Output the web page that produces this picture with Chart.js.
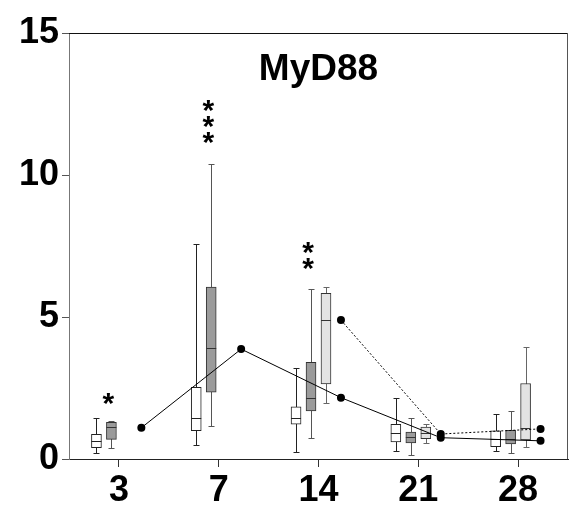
<!DOCTYPE html>
<html>
<head>
<meta charset="utf-8">
<script src="https://cdn.jsdelivr.net/npm/chart.js@4"></script>
<style>
  html, body { margin: 0; padding: 0; background: #fff; }
  #wrap { width: 573px; height: 506px; }
</style>
</head>
<body>
<div id="wrap"><canvas id="myd88"></canvas></div>
<script>
// x categories (days)
const days = ['3', '7', '14', '21', '28'];

// box stats per day: [min, q1, median, q3, max]
const whiteBoxes = [
  [0.21, 0.40, 0.63, 0.87, 1.46],
  [0.50, 1.00, 1.46, 2.52, 7.56],
  [0.25, 1.23, 1.43, 1.84, 3.19],
  [0.28, 0.60, 0.90, 1.22, 2.16],
  [0.29, 0.43, 0.69, 0.99, 1.57]
];
const darkBoxes = [
  [0.39, 0.69, 1.12, 1.29, 1.35],
  [1.17, 2.35, 3.90, 6.05, 10.39],
  [0.75, 1.69, 2.16, 3.40, 5.97],
  [0.14, 0.57, 0.79, 0.95, 1.43],
  [0.20, 0.53, 0.72, 1.01, 1.69]
];
const lightBoxes = [
  null,
  null,
  [1.98, 2.64, 4.89, 5.83, 6.07],
  [0.55, 0.72, 0.90, 1.12, 1.24],
  [0.43, 0.67, 1.08, 2.66, 3.94]
];

// the two connected point series
const solidLine = [1.10, 3.87, 2.16, 0.75, 0.64];
const dottedLine = [null, null, 4.89, 0.88, 1.06];

// significance marks: text and height (value) per day
const starText = ['*', '***', '**', '', ''];
const starTop = [2.15, 12.45, 7.45, null, null];

const yTicks = [0, 5, 10, 15];

// position of each group inside a day (in category units)
const SHIFT_WHITE = -0.225, SHIFT_DARK = -0.075, SHIFT_LIGHT = 0.075, SHIFT_DOT = 0.225;
const FONT = '"Liberation Sans", Arial, sans-serif';

function floating(stats, shift) {
  return stats.map((s, i) => s ? { x: i + shift, y: [s[1], s[3]] } : null).filter(p => p);
}
function linePoints(vals) {
  return vals.map((v, i) => ({ x: i + SHIFT_DOT, y: v }));
}

const boxSets = [
  { stats: whiteBoxes, shift: SHIFT_WHITE, fill: '#ffffff', edge: '#222222', whisker: '#222222' },
  { stats: darkBoxes, shift: SHIFT_DARK, fill: '#9b9b9b', edge: '#333333', whisker: '#555555' },
  { stats: lightBoxes, shift: SHIFT_LIGHT, fill: '#e3e3e3', edge: '#333333', whisker: '#666666' }
];

const boxPlugin = {
  id: 'boxPlugin',
  beforeDatasetsDraw(chart) {
    const ctx = chart.ctx;
    const xs = chart.scales.xl;
    const y = chart.scales.y;
    ctx.save();
    ctx.lineWidth = 1;
    boxSets.forEach(b => {
      b.stats.forEach((s, j) => {
        if (!s) return;
        const x = Math.round(xs.getPixelForValue(j + b.shift)) + 0.5;
        const top = Math.round(y.getPixelForValue(s[4])) + 0.5;
        const bot = Math.round(y.getPixelForValue(s[0])) + 0.5;
        ctx.strokeStyle = b.whisker;
        ctx.beginPath();
        ctx.moveTo(x, top); ctx.lineTo(x, bot);
        ctx.moveTo(x - 3, top); ctx.lineTo(x + 3, top);
        ctx.moveTo(x - 3, bot); ctx.lineTo(x + 3, bot);
        ctx.stroke();
      });
    });
    ctx.restore();
  },
  afterDatasetDraw(chart, args) {
    const b = boxSets[args.index];
    if (!b) return;
    const ctx = chart.ctx;
    const y = chart.scales.y;
    const els = args.meta.data;
    ctx.save();
    ctx.lineWidth = 1;
    ctx.strokeStyle = b.edge;
    let k = 0;
    b.stats.forEach(s => {
      if (!s) return;
      const el = els[k++];
      const m = Math.round(y.getPixelForValue(s[2])) + 0.5;
      ctx.beginPath();
      ctx.moveTo(el.x - el.width / 2, m);
      ctx.lineTo(el.x + el.width / 2, m);
      ctx.stroke();
    });
    ctx.restore();
  },
  afterDraw(chart) {
    const ctx = chart.ctx;
    const a = chart.chartArea;
    const x = chart.scales.xl;
    const y = chart.scales.y;
    ctx.save();
    // frame top and right
    ctx.lineWidth = 1;
    ctx.strokeStyle = '#111';
    ctx.beginPath();
    ctx.moveTo(a.left, a.top + 0.5); ctx.lineTo(a.right, a.top + 0.5);
    ctx.stroke();
    ctx.strokeStyle = '#555';
    ctx.beginPath();
    ctx.moveTo(a.right - 0.5, a.top); ctx.lineTo(a.right - 0.5, a.bottom);
    ctx.stroke();

    // title inside the plot
    ctx.fillStyle = '#000';
    ctx.textAlign = 'center';
    ctx.textBaseline = 'alphabetic';
    ctx.font = 'bold 37px ' + FONT;
    ctx.fillText('MyD88', (a.left + a.right) / 2, a.top + 47);

    // stars
    ctx.font = 'bold 30px ' + FONT;
    starText.forEach((t, i) => {
      if (!t) return;
      const px = x.getPixelForValue(i - 0.105);
      const py = y.getPixelForValue(starTop[i]);
      for (let k = 0; k < t.length; k++) {
        ctx.fillText('*', px, py + 15 + k * 16);
      }
    });
    ctx.restore();
  }
};

new Chart(document.getElementById('myd88'), {
  type: 'bar',
  data: {
    labels: days,
    datasets: [
      ...boxSets.map(b => ({
        data: floating(b.stats, b.shift),
        xAxisID: 'xl',
        backgroundColor: b.fill,
        borderColor: b.edge,
        borderWidth: 1,
        borderSkipped: false,
        grouped: false,
        barThickness: 10,
        order: 2
      })),
      {
        type: 'line',
        data: linePoints(solidLine),
        xAxisID: 'xl',
        borderColor: '#000',
        borderWidth: 1,
        pointRadius: 4,
        pointBackgroundColor: '#000',
        pointBorderWidth: 0,
        spanGaps: true,
        order: 0
      },
      {
        type: 'line',
        data: linePoints(dottedLine),
        xAxisID: 'xl',
        borderColor: '#000',
        borderWidth: 1,
        borderDash: [2, 2],
        pointRadius: 4,
        pointBackgroundColor: '#000',
        pointBorderWidth: 0,
        spanGaps: true,
        order: 0
      }
    ]
  },
  options: {
    responsive: true,
    maintainAspectRatio: false,
    animation: false,
    layout: { padding: { top: 33, right: 5, left: 0, bottom: 0 } },
    plugins: {
      legend: { display: false },
      tooltip: { enabled: false },
      title: { display: false }
    },
    scales: {
      x: {
        type: 'category',
        offset: true,
        grid: { display: true, drawOnChartArea: false, offset: false, tickLength: 8, color: '#333' },
        border: { display: true, color: '#222', width: 1 },
        ticks: { color: '#000', font: { family: FONT, size: 36, weight: 'bold' }, padding: 2 },
        afterFit(s) { s.height = 47; }
      },
      xl: {
        type: 'linear',
        display: false,
        offset: false,
        min: -0.5,
        max: 4.5
      },
      y: {
        min: 0,
        max: 15,
        afterBuildTicks(s) { s.ticks = yTicks.map(v => ({ value: v })); },
        grid: { display: true, drawOnChartArea: false, tickLength: 7, color: '#555' },
        border: { display: true, color: '#777', width: 1 },
        ticks: { color: '#000', font: { family: FONT, size: 36, weight: 'bold' }, padding: 3 },
        afterFit(s) { s.width = 69; }
      }
    }
  },
  plugins: [boxPlugin]
});
</script>
</body>
</html>
